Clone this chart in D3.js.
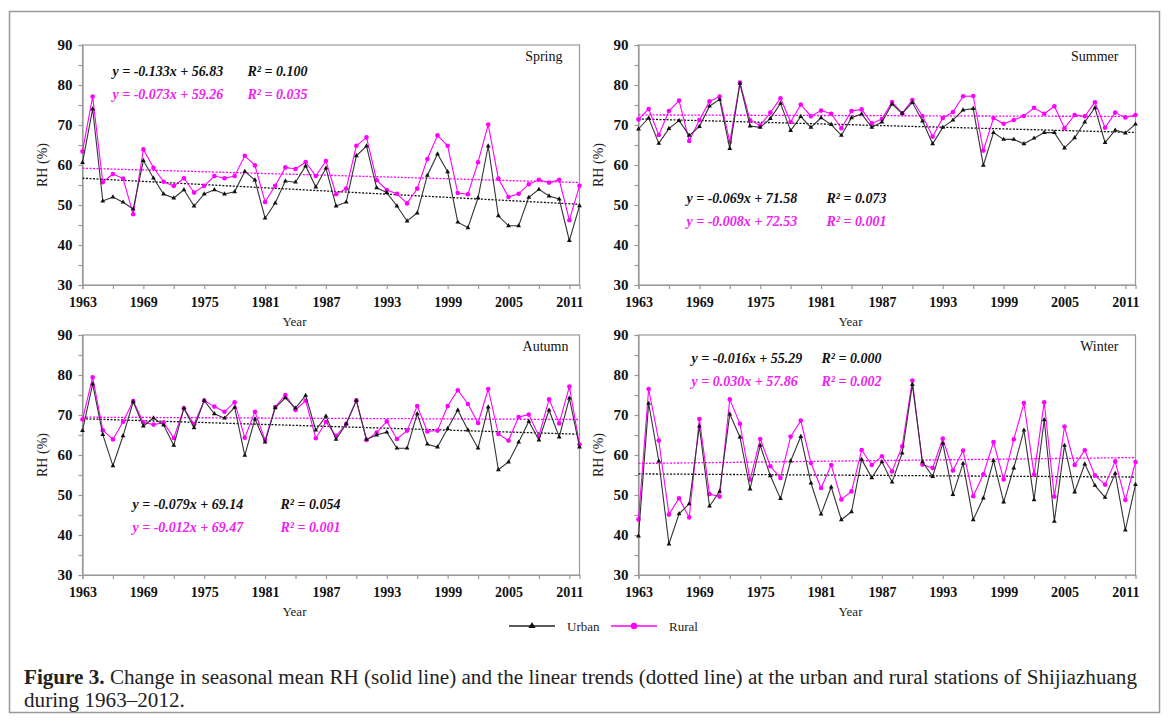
<!DOCTYPE html>
<html>
<head>
<meta charset="utf-8">
<script src="https://cdn.jsdelivr.net/npm/d3@7"></script>
<style>
  body { margin: 0; background: #fff; }
  svg text { font-family: "Liberation Serif", "Times New Roman", serif; }
</style>
</head>
<body>
<div id="chart"></div>
<script>
// Seasonal mean RH (%) at Shijiazhuang, 1963-2012
const years = d3.range(1963, 2013);

const springUrban = [60.6, 74, 51, 52, 50.7, 49, 61.1, 56.7, 52.75, 51.75,
    53.8, 49.75, 52.75, 53.8, 52.75, 53.3, 58.4, 56.25, 46.7, 50.5,
    56, 55.7, 59.75, 54.5, 59.2, 49.75, 50.7, 62.3, 64.75, 54.3,
    53.1, 49.75, 46, 48, 57.4, 62.75, 58.3, 45.7, 44.3, 51.8,
    64.75, 47.3, 44.8, 44.8, 51.9, 53.9, 52.25, 51.5, 41.1, 49.8];
const springRural = [63.4, 77.1, 55.7, 57.75, 56.6, 47.7, 63.9, 59.3, 55.8, 54.75,
    56.7, 53.1, 54.8, 57.25, 56.7, 57.25, 62.3, 59.9, 50.75, 54.8,
    59.4, 59, 60.75, 57.25, 61, 52.7, 54.1, 64.8, 66.9, 56.2,
    53.75, 52.8, 50.4, 54.1, 61.5, 67.4, 64.8, 53, 52.7, 60.7,
    70.1, 56.6, 52, 52.8, 55.2, 56.3, 55.6, 56.3, 46.2, 54.8];

const summerUrban = [69, 71.75, 65.4, 69.1, 71.1, 67.4, 69.6, 74.7, 76.4, 64.1,
    80.4, 69.75, 69.4, 71.6, 75.4, 68.6, 72.1, 69.4, 71.8, 70.1,
    67.4, 71.8, 72.75, 69.4, 70.75, 75.25, 72.9, 75.6, 71, 65.3,
    69.4, 71.2, 73.75, 74.1, 59.9, 68.1, 66.4, 66.4, 65.3, 66.7,
    68.1, 68.1, 64.25, 66.8, 70.75, 74.3, 65.6, 68.7, 68, 70.2];
const summerRural = [71.4, 74, 67.5, 73.5, 76.1, 66, 71.25, 75.9, 77.1, 65.75,
    80.6, 71.2, 69.9, 73.1, 76.7, 70.75, 75.1, 72.2, 73.6, 72.8,
    69.2, 73.5, 73.9, 70.4, 71.5, 75.75, 72.9, 76.25, 72.25, 67.1,
    71.75, 73.25, 77.2, 77.25, 63.6, 71.75, 70.3, 71.25, 72.25, 74.3,
    72.8, 74.7, 69.2, 72.5, 72.2, 75.7, 69.3, 73.1, 71.9, 72.5];

const autumnUrban = [66.1, 77.75, 65.1, 57.3, 64.8, 73.3, 67.25, 69.25, 67.5, 62.4,
    71.7, 66.8, 73.6, 70.3, 69.2, 71.9, 59.9, 69, 63.2, 71.8,
    74.3, 71.7, 74.9, 66.2, 69.7, 63.9, 67.8, 73.6, 63.9, 65,
    65.7, 61.7, 61.7, 70.3, 62.7, 62, 66.6, 71.25, 66.25, 61.7,
    72, 56.3, 58.25, 63.2, 68.4, 63.75, 71.2, 64.5, 74.2, 62];
const autumnRural = [68.9, 79.4, 66.2, 63.9, 68.3, 73.5, 68.2, 67.6, 68.1, 64.25,
    71.7, 67.7, 73.6, 72.1, 70.8, 73.2, 64.3, 70.8, 63.75, 72,
    75, 71.25, 73.6, 64.2, 68.25, 64.8, 67.75, 73.7, 63.75, 65.6,
    68.4, 64, 66.1, 72.25, 65.9, 66.1, 72.25, 76.2, 72.75, 68,
    76.5, 65.25, 63.6, 69.5, 70.1, 64.75, 73.9, 67.9, 77.1, 62.6];

const winterUrban = [39.75, 72.9, 58.5, 37.75, 45.3, 47.8, 67.2, 47.2, 50.9, 70.25,
    64.5, 51.5, 62.4, 54.8, 49.1, 58.5, 64.6, 53, 45.2, 52,
    43.8, 45.8, 58.9, 54.3, 58.3, 53.2, 60.5, 77.6, 58.3, 54.6,
    62.9, 50.1, 57.9, 43.8, 49.25, 58.6, 48.25, 56.75, 66.2, 48.8,
    68.8, 43.4, 62.4, 50.75, 57.75, 52.4, 49.4, 55.4, 41.25, 52.6];
const winterRural = [43.9, 76.5, 63.6, 45.1, 49.2, 44.4, 69, 50.25, 49.6, 73.9,
    67.8, 53.8, 64, 57.2, 54.25, 64.6, 68.6, 58, 51.75, 57.5,
    48.9, 50.9, 61.25, 57.5, 59.7, 55.9, 62.2, 78.6, 57.6, 56.75,
    64.1, 56.1, 61.1, 49.7, 55.2, 63.25, 53.9, 63.9, 73, 55.1,
    73.2, 49.6, 67.1, 57.5, 61.2, 54.9, 52.6, 58.4, 48.75, 58.25];

// linear trends as printed on the chart (x = 1 for 1963)
const seasons = ["Spring", "Summer", "Autumn", "Winter"];
const urbanSlope = [-0.133, -0.069, -0.079, -0.016];
const urbanIntercept = [56.83, 71.58, 69.14, 55.29];
const urbanR2 = ["0.100", "0.073", "0.054", "0.000"];
const ruralSlope = [-0.073, -0.008, -0.012, 0.030];
const ruralIntercept = [59.26, 72.53, 69.47, 57.86];
const ruralR2 = ["0.035", "0.001", "0.001", "0.002"];

const yTicks = d3.range(30, 91, 5);
const xTicks = d3.range(1963, 2013, 3);

const urbanColor = "#111";
const ruralColor = "#ff00ff";
const axisColor = "#999";
const serif = "'Liberation Serif', 'Times New Roman', serif";

const width = 1171, height = 723;
const svg = d3.select("#chart").append("svg")
    .attr("width", width)
    .attr("height", height)
    .attr("font-family", serif);

// outer frame
svg.append("rect")
    .attr("x", 9.5).attr("y", 11.5)
    .attr("width", 1150).attr("height", 701)
    .attr("fill", "none")
    .attr("stroke", "#999")
    .attr("stroke-width", 1.5);

const panels = [
    { left: 82.5, top: 45, urban: springUrban, rural: springRural,
      eqX: 30, eqY: 26, r2X: 165, nameX: 480 },
    { left: 638.5, top: 45, urban: summerUrban, rural: summerRural,
      eqX: 48, eqY: 153, r2X: 188, nameX: 480 },
    { left: 82.5, top: 335, urban: autumnUrban, rural: autumnRural,
      eqX: 50, eqY: 169, r2X: 198, nameX: 486 },
    { left: 638.5, top: 335, urban: winterUrban, rural: winterRural,
      eqX: 53, eqY: 23, r2X: 183, nameX: 480 }
];

const plotW = 497, plotH = 240;

function fmtEq(s, b) {
    const sign = b >= 0 ? "+ " : "- ";
    return "y = " + s.toFixed(3) + "x " + sign + Math.abs(b).toFixed(2);
}

panels.forEach((p, i) => {
    const g = svg.append("g").attr("transform", `translate(${p.left},${p.top})`);
    const x = d3.scaleLinear().domain([1963, 2012]).range([0, plotW]);
    const y = d3.scaleLinear().domain([30, 90]).range([plotH, 0]);

    // plot frame
    g.append("rect")
        .attr("width", plotW).attr("height", plotH)
        .attr("fill", "none")
        .attr("stroke", axisColor)
        .attr("stroke-width", 1.2);

    // y axis
    const yAxis = g.append("g")
        .call(d3.axisLeft(y).tickValues(yTicks).tickSize(4)
            .tickFormat(d => d % 10 === 0 ? d : ""));
    // x axis
    const xAxis = g.append("g")
        .attr("transform", `translate(0,${plotH})`)
        .call(d3.axisBottom(x).tickValues(xTicks).tickSize(4)
            .tickFormat(d => (d - 1963) % 6 === 0 ? d : ""));
    [yAxis, xAxis].forEach(ax => {
        ax.attr("font-family", serif);
        ax.select(".domain").attr("stroke", axisColor).attr("stroke-width", 1.2);
        ax.selectAll(".tick line").attr("stroke", axisColor).attr("stroke-width", 1.2);
        ax.selectAll(".tick text")
            .attr("fill", "#111")
            .attr("font-weight", "bold");
    });
    yAxis.attr("font-size", 15);
    xAxis.attr("font-size", 14);
    yAxis.selectAll(".tick text").attr("x", -10);
    xAxis.selectAll(".tick text").attr("y", 12);

    // axis titles
    g.append("text")
        .attr("transform", `translate(-36,${plotH / 2}) rotate(-90)`)
        .attr("text-anchor", "middle")
        .attr("font-size", 14)
        .attr("fill", "#222")
        .text("RH (%)");
    g.append("text")
        .attr("x", 212).attr("y", plotH + 41)
        .attr("text-anchor", "middle")
        .attr("font-size", 13)
        .attr("fill", "#222")
        .text("Year");

    // season label
    g.append("text")
        .attr("x", p.nameX).attr("y", 16)
        .attr("text-anchor", "end")
        .attr("font-size", 14)
        .attr("fill", "#111")
        .text(seasons[i]);

    // trend lines (dotted)
    const trends = [
        { s: urbanSlope[i], b: urbanIntercept[i], c: urbanColor },
        { s: ruralSlope[i], b: ruralIntercept[i], c: ruralColor }
    ];
    trends.forEach(t => {
        const ends = [1963, 2012].map(yr => [yr, t.s * (yr - 1962) + t.b]);
        g.append("path")
            .attr("d", d3.line().x(d => x(d[0])).y(d => y(d[1]))(ends))
            .attr("fill", "none")
            .attr("stroke", t.c)
            .attr("stroke-width", 1.3)
            .attr("stroke-dasharray", "2,1.5");
    });

    const line = d3.line().x((d, k) => x(years[k])).y(d => y(d));

    // rural series
    g.append("path")
        .attr("d", line(p.rural))
        .attr("fill", "none")
        .attr("stroke", ruralColor)
        .attr("stroke-width", 1.1);
    g.selectAll(".rdot").data(p.rural).enter().append("circle")
        .attr("cx", (d, k) => x(years[k]))
        .attr("cy", d => y(d))
        .attr("r", 2.3)
        .attr("fill", ruralColor);

    // urban series
    g.append("path")
        .attr("d", line(p.urban))
        .attr("fill", "none")
        .attr("stroke", "#333")
        .attr("stroke-width", 1.1);
    g.selectAll(".udot").data(p.urban).enter().append("path")
        .attr("d", d3.symbol().type(d3.symbolTriangle).size(10))
        .attr("transform", (d, k) => `translate(${x(years[k])},${y(d)})`)
        .attr("fill", urbanColor);

    // equations
    const eq = [
        { t: fmtEq(urbanSlope[i], urbanIntercept[i]), r: urbanR2[i], c: "#111", dy: 0 },
        { t: fmtEq(ruralSlope[i], ruralIntercept[i]), r: ruralR2[i], c: "#ee22ee", dy: 23 }
    ];
    eq.forEach(e => {
        g.append("text")
            .attr("x", p.eqX).attr("y", p.eqY + e.dy + 5)
            .attr("font-size", 14)
            .attr("font-weight", "bold")
            .attr("font-style", "italic")
            .attr("fill", e.c)
            .text(e.t);
        g.append("text")
            .attr("x", p.r2X).attr("y", p.eqY + e.dy + 5)
            .attr("font-size", 14)
            .attr("font-weight", "bold")
            .attr("font-style", "italic")
            .attr("fill", e.c)
            .text("R² = " + e.r);
    });
});

// legend
const legend = svg.append("g").attr("transform", "translate(0,626)");
const legendItems = [
    { name: "Urban", c: "#222", x: 509 },
    { name: "Rural", c: ruralColor, x: 611 }
];
legendItems.forEach((it, k) => {
    legend.append("line")
        .attr("x1", it.x).attr("x2", it.x + 46)
        .attr("stroke", it.c).attr("stroke-width", 1.3);
    if (k === 0) {
        legend.append("path")
            .attr("d", d3.symbol().type(d3.symbolTriangle).size(22))
            .attr("transform", `translate(${it.x + 23},0)`)
            .attr("fill", "#111");
    } else {
        legend.append("circle")
            .attr("cx", it.x + 23).attr("r", 3.2)
            .attr("fill", it.c);
    }
    legend.append("text")
        .attr("x", it.x + 58).attr("y", 4.5)
        .attr("font-size", 13)
        .attr("fill", "#222")
        .text(it.name);
});

// caption
const cap = svg.append("text")
    .attr("x", 24).attr("y", 684)
    .attr("font-size", 20)
    .attr("fill", "#222");
cap.append("tspan").attr("font-weight", "bold").text("Figure 3.");
cap.append("tspan").text(" Change in seasonal mean RH (solid line) and the linear trends (dotted line) at the urban and rural stations of Shijiazhuang");
const cap2 = svg.append("text")
    .attr("x", 24).attr("y", 707)
    .attr("font-size", 20)
    .attr("fill", "#222")
    .text("during 1963–2012.");

// the caption font in the figure is narrower; squeeze both lines alike
const capLen = cap.node().getComputedTextLength();
if (capLen > 0) {
    const ratio = 1113 / capLen;
    cap.attr("textLength", 1113).attr("lengthAdjust", "spacingAndGlyphs");
    cap2.attr("textLength", cap2.node().getComputedTextLength() * ratio)
        .attr("lengthAdjust", "spacingAndGlyphs");
}
</script>
</body>
</html>
